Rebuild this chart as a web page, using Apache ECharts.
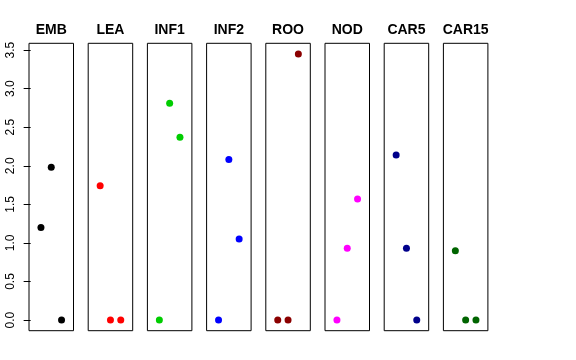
<!DOCTYPE html>
<html>
<head>
<meta charset="utf-8">
<script src="https://cdn.jsdelivr.net/npm/echarts@6/dist/echarts.min.js"></script>
<style>html,body{margin:0;padding:0;background:#fff}#c{width:576px;height:360px}</style>
</head>
<body>
<div id="c"></div>
<script>
var categories = ['EMB','LEA','INF1','INF2','ROO','NOD','CAR5','CAR15'];
var slots = [1, 2, 3];
var emb   = [1.20, 1.98, 0];
var lea   = [1.74, 0, 0];
var inf1  = [0, 2.81, 2.37];
var inf2  = [0, 2.08, 1.05];
var roo   = [0, 0, 3.45];
var nod   = [0, 0.93, 1.57];
var car5  = [2.14, 0.93, 0];
var car15 = [0.90, 0, 0];
var tickValues = [0, 0.5, 1, 1.5, 2, 2.5, 3, 3.5];
var colors = ['#000000','#FF0000','#00CD00','#0000FF','#8B0000','#FF00FF','#00008B','#006400'];

var panels = [emb, lea, inf1, inf2, roo, nod, car5, car15];
var chart = echarts.init(document.getElementById('c'), null, {renderer:'canvas'});
var L0 = 29, STEP = 59.2, W = 44.5, TOP = 43.3, H = 287.4;
var grids = [], xAxes = [], yAxes = [], series = [], texts = [];
panels.forEach(function(vals, i){
  var left = L0 + i*STEP;
  grids.push({left: left, top: TOP, width: W, height: H, show: true, borderColor: '#000', borderWidth: 1, backgroundColor: 'transparent', containLabel: false});
  xAxes.push({gridIndex: i, type: 'value', min: -0.16, max: 4.16, show: false});
  yAxes.push({gridIndex: i, type: 'value', min: -0.138, max: 3.588,
    splitLine: {show: false}, axisLine: {show: false},
    axisTick: {show: i === 0, length: 7, lineStyle: {color: '#000', width: 1}, customValues: tickValues},
    axisLabel: {show: i === 0, rotate: 90, margin: 12, fontSize: 12, color: '#000', fontFamily: 'Liberation Sans, Arial, sans-serif',
      customValues: tickValues, formatter: function(v){ return Number(v).toFixed(1); }}
  });
  series.push({type: 'scatter', xAxisIndex: i, yAxisIndex: i, symbol: 'circle', symbolSize: 7,
    itemStyle: {color: colors[i], opacity: 1}, silent: true,
    data: vals.map(function(v, k){ return [slots[k], v]; })});
  texts.push({type: 'text', x: left + W/2, y: 30, silent: true,
    style: {text: categories[i], textAlign: 'center', textVerticalAlign: 'middle', align: 'center', verticalAlign: 'middle',
      fontSize: 14, fontWeight: 'bold', fill: '#000', fontFamily: 'Liberation Sans, Arial, sans-serif'}});
});
chart.setOption({animation: false, backgroundColor: '#fff', grid: grids, xAxis: xAxes, yAxis: yAxes, series: series, graphic: {elements: texts}});
</script>
</body>
</html>
